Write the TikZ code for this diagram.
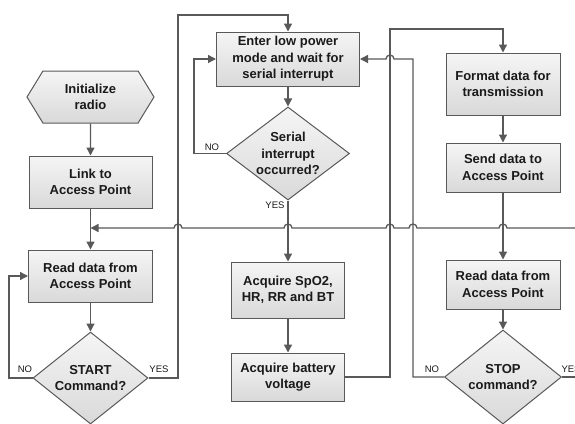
\documentclass[tikz,border=0pt]{standalone}
\usepackage{fontspec}
\setmainfont{Liberation Sans}
\usetikzlibrary{arrows.meta,shapes.geometric,shapes.symbols}
\definecolor{lineC}{HTML}{595959}
\definecolor{boxTop}{HTML}{F5F5F5}
\definecolor{boxBot}{HTML}{D9D9D9}
\definecolor{txtC}{HTML}{1A1A1A}
\tikzset{
  proc/.style={draw=lineC, line width=1pt, top color=boxTop, bottom color=boxBot,
    align=center, font=\fontsize{13}{16.5}\selectfont\bfseries, text=txtC, inner sep=0pt},
  dec/.style={proc, shape=diamond, aspect=1.3},
  hexa/.style={proc, shape=signal, signal to=east and west, signal pointer angle=117,
    minimum width=127pt, minimum height=52pt},
  conn/.style={draw=lineC, line width=1.3pt},
  flow/.style={conn, -{Triangle[length=8pt,width=8pt]}},
  lbl/.style={font=\fontsize{9.5}{11}\selectfont, text=txtC, inner sep=0pt}
}
\begin{document}
\begin{tikzpicture}[x=1pt,y=1pt]
\useasboundingbox[fill=white] (0,0) rectangle (575,-423);
% nodes
\node[hexa] (init) at (90.5,-97) {Initialize\\radio};
\node[proc, minimum width=123pt, minimum height=52pt] (link) at (90.5,-182) {Link to\\Access Point};
\node[proc, minimum width=124pt, minimum height=52pt] (read1) at (90.5,-276) {Read data from\\Access Point};
\node[dec, minimum width=115pt, minimum height=92pt] (start) at (90.5,-378) {START\\Command?};
\node[proc, minimum width=143pt, minimum height=54pt] (enter) at (288,-59) {Enter low power\\mode and wait for\\serial interrupt};
\node[dec, minimum width=123pt, minimum height=93pt] (serial) at (288,-153.5) {Serial\\interrupt\\occurred?};
\node[proc, minimum width=113pt, minimum height=56pt] (spo2) at (288,-290) {Acquire SpO2,\\HR, RR and BT};
\node[proc, minimum width=113pt, minimum height=48pt] (batt) at (288,-377) {Acquire battery\\voltage};
\node[proc, minimum width=114pt, minimum height=62pt] (format) at (503,-84) {Format data for\\transmission};
\node[proc, minimum width=114pt, minimum height=49pt] (send) at (503,-167.5) {Send data to\\Access Point};
\node[proc, minimum width=114pt, minimum height=49pt] (read2) at (503,-284.5) {Read data from\\Access Point};
\node[dec, minimum width=117pt, minimum height=94pt] (stop) at (503,-377) {STOP\\command?};
% helper coordinates
\coordinate (tl) at (178,-15);
\coordinate (nl) at (194,-153.5);
\coordinate (tr) at (390,-29);
\coordinate (sr) at (413,-59);
\coordinate (offr1) at (580,-228);
\coordinate (offr2) at (580,-377);
\coordinate (merge) at (90.5,-228);
% connectors
\draw[flow] (init) -- (link);
\draw[flow] (link) -- (read1);
\draw[flow] (read1) -- (start);
\draw[flow] (start.west) -- ++(-23.5,0) |- (read1.west);
\draw[flow] (start.east) -| (tl) -| (enter.north);
\draw[flow] (enter) -- (serial);
\draw[flow] (serial.west) -- (nl) |- (enter.west);
\draw[flow] (serial) -- (spo2);
\draw[flow] (spo2) -- (batt);
\draw[flow] (batt.east) -| (tr) -| (format.north);
\draw[flow] (format) -- (send);
\draw[flow] (send) -- (read2);
\draw[flow] (read2) -- (stop);
\draw[flow] (stop.west) -| (sr) -- (394,-59) arc[start angle=0,end angle=180,radius=4] -- (enter.east);
\draw[conn] (stop.east) -- (offr2);
\draw[flow] (offr1) -- (507,-228) arc[start angle=0,end angle=180,radius=4]
  -- (417,-228) arc[start angle=0,end angle=180,radius=4]
  -- (394,-228) arc[start angle=0,end angle=180,radius=4]
  -- (292,-228) arc[start angle=0,end angle=180,radius=4]
  -- (182,-228) arc[start angle=0,end angle=180,radius=4]
  -- (merge);
% labels
\node[lbl] (l1) at (25,-369) {NO};
\node[lbl] (l2) at (159,-369) {YES};
\node[lbl] (l3) at (212,-147) {NO};
\node[lbl] (l4) at (275,-205) {YES};
\node[lbl] (l5) at (432,-369) {NO};
\node[lbl] (l6) at (571,-369) {YES};
\end{tikzpicture}
\end{document}
